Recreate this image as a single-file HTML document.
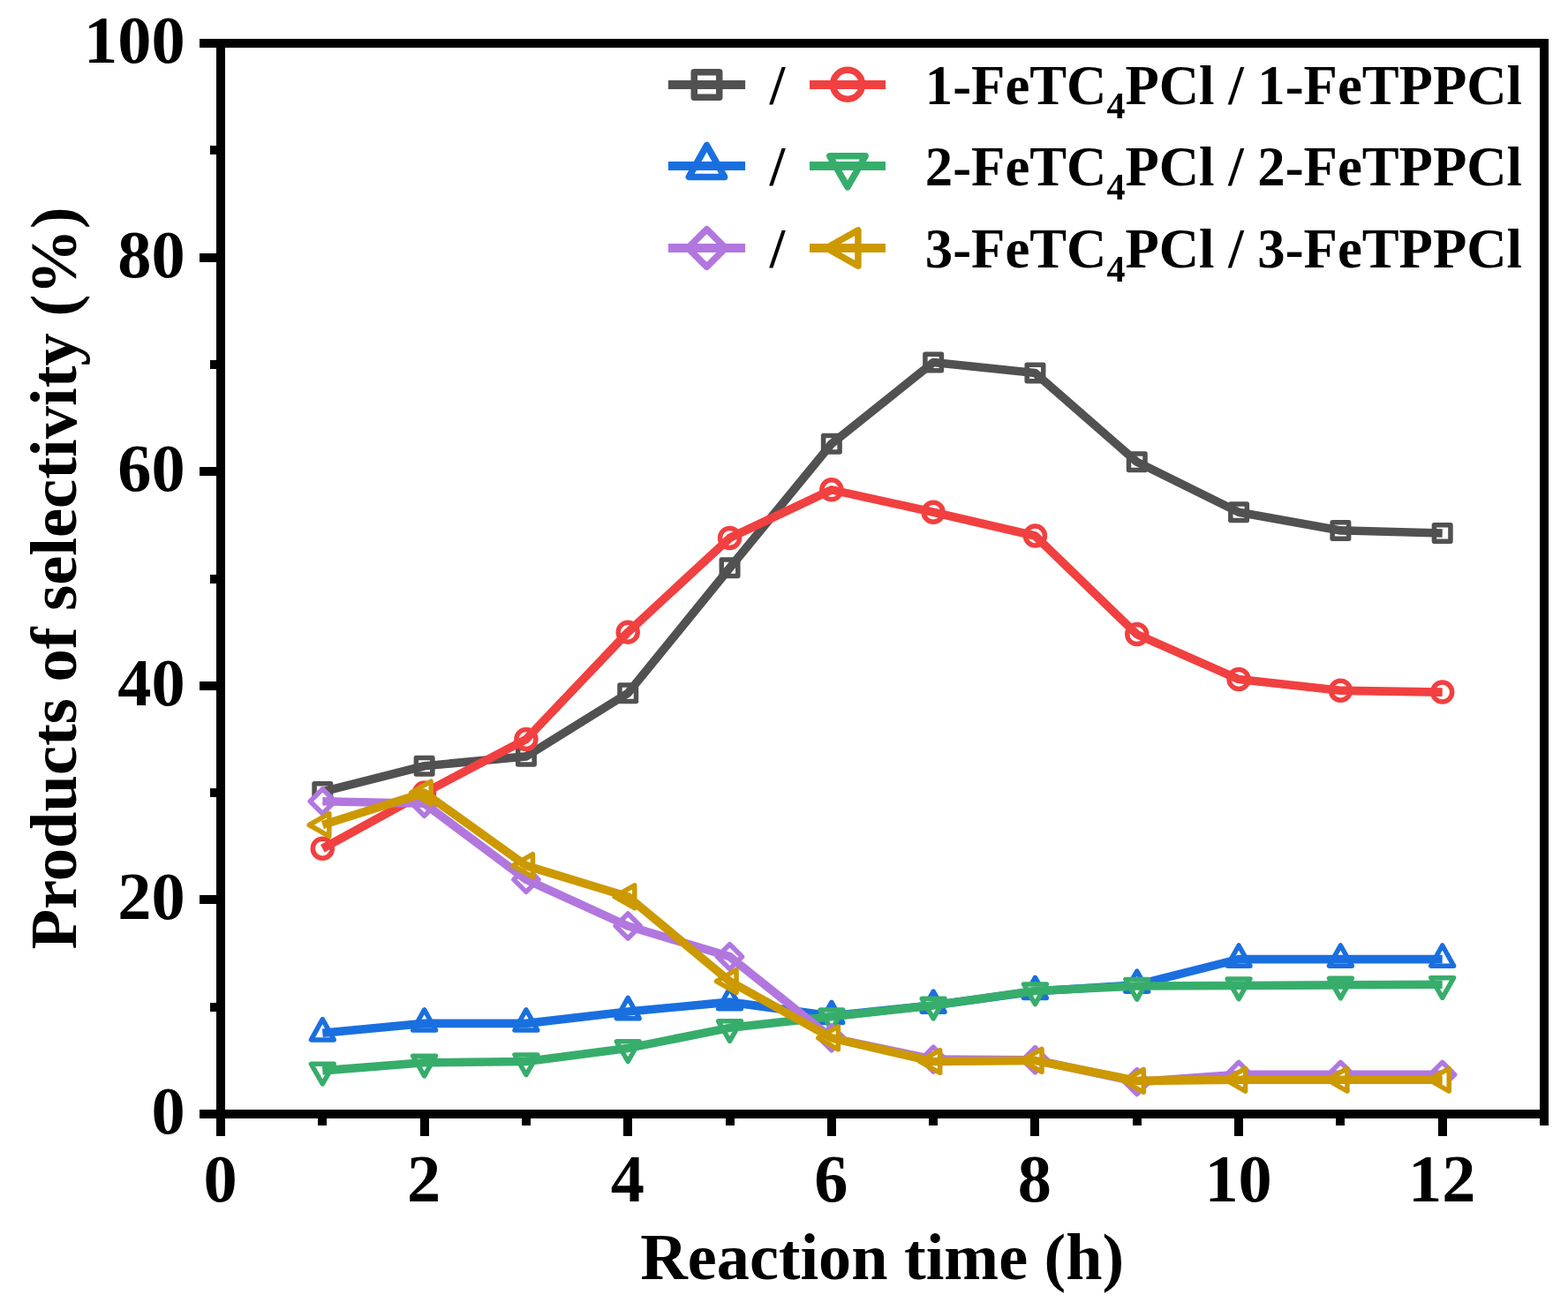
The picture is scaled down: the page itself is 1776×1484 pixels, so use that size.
<!DOCTYPE html>
<html lang="en"><head><meta charset="utf-8"><title>Products of selectivity vs reaction time</title>
<style>html,body{margin:0;padding:0;background:#fff}svg{display:block}text{font-family:"Liberation Serif","DejaVu Serif",serif;font-weight:bold;fill:#000}</style></head><body>
<svg width="1776" height="1484" viewBox="0 0 1776 1484">
<rect x="0" y="0" width="1776" height="1484" fill="#fff"/>
<g id="series">
<g>
<rect x="356.06" y="887.64" width="18.5" height="18.5" fill="#fff" stroke="#515151" stroke-width="5.5" stroke-linejoin="round"/>
<rect x="471.37" y="858.52" width="18.5" height="18.5" fill="#fff" stroke="#515151" stroke-width="5.5" stroke-linejoin="round"/>
<rect x="586.67" y="847.61" width="18.5" height="18.5" fill="#fff" stroke="#515151" stroke-width="5.5" stroke-linejoin="round"/>
<rect x="701.98" y="776.04" width="18.5" height="18.5" fill="#fff" stroke="#515151" stroke-width="5.5" stroke-linejoin="round"/>
<rect x="817.29" y="634.12" width="18.5" height="18.5" fill="#fff" stroke="#515151" stroke-width="5.5" stroke-linejoin="round"/>
<rect x="932.6" y="493.41" width="18.5" height="18.5" fill="#fff" stroke="#515151" stroke-width="5.5" stroke-linejoin="round"/>
<rect x="1047.9" y="401.22" width="18.5" height="18.5" fill="#fff" stroke="#515151" stroke-width="5.5" stroke-linejoin="round"/>
<rect x="1163.21" y="413.35" width="18.5" height="18.5" fill="#fff" stroke="#515151" stroke-width="5.5" stroke-linejoin="round"/>
<rect x="1278.52" y="514.03" width="18.5" height="18.5" fill="#fff" stroke="#515151" stroke-width="5.5" stroke-linejoin="round"/>
<rect x="1393.83" y="571.04" width="18.5" height="18.5" fill="#fff" stroke="#515151" stroke-width="5.5" stroke-linejoin="round"/>
<rect x="1509.13" y="591.66" width="18.5" height="18.5" fill="#fff" stroke="#515151" stroke-width="5.5" stroke-linejoin="round"/>
<rect x="1624.44" y="594.7" width="18.5" height="18.5" fill="#fff" stroke="#515151" stroke-width="5.5" stroke-linejoin="round"/>
<polyline points="365.31,896.89 480.62,867.77 595.92,856.86 711.23,785.29 826.54,643.37 941.85,502.66 1057.15,410.47 1172.46,422.6 1287.77,523.28 1403.08,580.29 1518.38,600.91 1633.69,603.95" fill="none" stroke="#515151" stroke-width="9.6" stroke-linejoin="round" stroke-linecap="butt"/>
</g>
<g>
<circle cx="365.31" cy="961.18" r="11" fill="#fff" stroke="#F14040" stroke-width="5.5" stroke-linejoin="round"/>
<circle cx="480.62" cy="898.1" r="11" fill="#fff" stroke="#F14040" stroke-width="5.5" stroke-linejoin="round"/>
<circle cx="595.92" cy="837.45" r="11" fill="#fff" stroke="#F14040" stroke-width="5.5" stroke-linejoin="round"/>
<circle cx="711.23" cy="716.15" r="11" fill="#fff" stroke="#F14040" stroke-width="5.5" stroke-linejoin="round"/>
<circle cx="826.54" cy="609.41" r="11" fill="#fff" stroke="#F14040" stroke-width="5.5" stroke-linejoin="round"/>
<circle cx="941.85" cy="554.82" r="11" fill="#fff" stroke="#F14040" stroke-width="5.5" stroke-linejoin="round"/>
<circle cx="1057.15" cy="580.29" r="11" fill="#fff" stroke="#F14040" stroke-width="5.5" stroke-linejoin="round"/>
<circle cx="1172.46" cy="606.98" r="11" fill="#fff" stroke="#F14040" stroke-width="5.5" stroke-linejoin="round"/>
<circle cx="1287.77" cy="718.58" r="11" fill="#fff" stroke="#F14040" stroke-width="5.5" stroke-linejoin="round"/>
<circle cx="1403.08" cy="769.52" r="11" fill="#fff" stroke="#F14040" stroke-width="5.5" stroke-linejoin="round"/>
<circle cx="1518.38" cy="782.26" r="11" fill="#fff" stroke="#F14040" stroke-width="5.5" stroke-linejoin="round"/>
<circle cx="1633.69" cy="784.08" r="11" fill="#fff" stroke="#F14040" stroke-width="5.5" stroke-linejoin="round"/>
<polyline points="365.31,961.18 480.62,898.1 595.92,837.45 711.23,716.15 826.54,609.41 941.85,554.82 1057.15,580.29 1172.46,606.98 1287.77,718.58 1403.08,769.52 1518.38,782.26 1633.69,784.08" fill="none" stroke="#F14040" stroke-width="9.6" stroke-linejoin="round" stroke-linecap="butt"/>
</g>
<g>
<polygon points="365.31,1154.7 352.41,1177.9 378.21,1177.9" fill="#fff" stroke="#1A6FDF" stroke-width="5.5" stroke-linejoin="round"/>
<polygon points="480.62,1143.78 467.72,1166.98 493.52,1166.98" fill="#fff" stroke="#1A6FDF" stroke-width="5.5" stroke-linejoin="round"/>
<polygon points="595.92,1143.78 583.02,1166.98 608.82,1166.98" fill="#fff" stroke="#1A6FDF" stroke-width="5.5" stroke-linejoin="round"/>
<polygon points="711.23,1130.44 698.33,1153.64 724.13,1153.64" fill="#fff" stroke="#1A6FDF" stroke-width="5.5" stroke-linejoin="round"/>
<polygon points="826.54,1119.52 813.64,1142.72 839.44,1142.72" fill="#fff" stroke="#1A6FDF" stroke-width="5.5" stroke-linejoin="round"/>
<polygon points="941.85,1135.29 928.95,1158.49 954.75,1158.49" fill="#fff" stroke="#1A6FDF" stroke-width="5.5" stroke-linejoin="round"/>
<polygon points="1057.15,1123.16 1044.25,1146.36 1070.05,1146.36" fill="#fff" stroke="#1A6FDF" stroke-width="5.5" stroke-linejoin="round"/>
<polygon points="1172.46,1107.39 1159.56,1130.59 1185.36,1130.59" fill="#fff" stroke="#1A6FDF" stroke-width="5.5" stroke-linejoin="round"/>
<polygon points="1287.77,1100.11 1274.87,1123.31 1300.67,1123.31" fill="#fff" stroke="#1A6FDF" stroke-width="5.5" stroke-linejoin="round"/>
<polygon points="1403.08,1071 1390.18,1094.2 1415.98,1094.2" fill="#fff" stroke="#1A6FDF" stroke-width="5.5" stroke-linejoin="round"/>
<polygon points="1518.38,1071 1505.48,1094.2 1531.28,1094.2" fill="#fff" stroke="#1A6FDF" stroke-width="5.5" stroke-linejoin="round"/>
<polygon points="1633.69,1071 1620.79,1094.2 1646.59,1094.2" fill="#fff" stroke="#1A6FDF" stroke-width="5.5" stroke-linejoin="round"/>
<polyline points="365.31,1170.3 480.62,1159.38 595.92,1159.38 711.23,1146.04 826.54,1135.12 941.85,1150.89 1057.15,1138.76 1172.46,1122.99 1287.77,1115.71 1403.08,1086.6 1518.38,1086.6 1633.69,1086.6" fill="none" stroke="#1A6FDF" stroke-width="9.6" stroke-linejoin="round" stroke-linecap="butt"/>
</g>
<g>
<polygon points="365.31,1227.97 352.41,1205.32 378.21,1205.32" fill="#fff" stroke="#37AD6B" stroke-width="5.5" stroke-linejoin="round"/>
<polygon points="480.62,1218.88 467.72,1196.23 493.52,1196.23" fill="#fff" stroke="#37AD6B" stroke-width="5.5" stroke-linejoin="round"/>
<polygon points="595.92,1217.66 583.02,1195.01 608.82,1195.01" fill="#fff" stroke="#37AD6B" stroke-width="5.5" stroke-linejoin="round"/>
<polygon points="711.23,1202.5 698.33,1179.85 724.13,1179.85" fill="#fff" stroke="#37AD6B" stroke-width="5.5" stroke-linejoin="round"/>
<polygon points="826.54,1179.45 813.64,1156.8 839.44,1156.8" fill="#fff" stroke="#37AD6B" stroke-width="5.5" stroke-linejoin="round"/>
<polygon points="941.85,1166.72 928.95,1144.07 954.75,1144.07" fill="#fff" stroke="#37AD6B" stroke-width="5.5" stroke-linejoin="round"/>
<polygon points="1057.15,1153.98 1044.25,1131.33 1070.05,1131.33" fill="#fff" stroke="#37AD6B" stroke-width="5.5" stroke-linejoin="round"/>
<polygon points="1172.46,1137.61 1159.56,1114.96 1185.36,1114.96" fill="#fff" stroke="#37AD6B" stroke-width="5.5" stroke-linejoin="round"/>
<polygon points="1287.77,1132.15 1274.87,1109.5 1300.67,1109.5" fill="#fff" stroke="#37AD6B" stroke-width="5.5" stroke-linejoin="round"/>
<polygon points="1403.08,1131.54 1390.18,1108.89 1415.98,1108.89" fill="#fff" stroke="#37AD6B" stroke-width="5.5" stroke-linejoin="round"/>
<polygon points="1518.38,1130.93 1505.48,1108.28 1531.28,1108.28" fill="#fff" stroke="#37AD6B" stroke-width="5.5" stroke-linejoin="round"/>
<polygon points="1633.69,1130.33 1620.79,1107.68 1646.59,1107.68" fill="#fff" stroke="#37AD6B" stroke-width="5.5" stroke-linejoin="round"/>
<polyline points="365.31,1212.87 480.62,1203.78 595.92,1202.56 711.23,1187.4 826.54,1164.35 941.85,1151.62 1057.15,1138.88 1172.46,1122.51 1287.77,1117.05 1403.08,1116.44 1518.38,1115.83 1633.69,1115.23" fill="none" stroke="#37AD6B" stroke-width="9.6" stroke-linejoin="round" stroke-linecap="butt"/>
</g>
<g>
<polygon points="365.31,893.8 379.31,907.8 365.31,921.8 351.31,907.8" fill="#fff" stroke="#B177DE" stroke-width="5.5" stroke-linejoin="round"/>
<polygon points="480.62,896.23 494.62,910.23 480.62,924.23 466.62,910.23" fill="#fff" stroke="#B177DE" stroke-width="5.5" stroke-linejoin="round"/>
<polygon points="595.92,982.35 609.92,996.35 595.92,1010.35 581.92,996.35" fill="#fff" stroke="#B177DE" stroke-width="5.5" stroke-linejoin="round"/>
<polygon points="711.23,1035 725.23,1049 711.23,1063 697.23,1049" fill="#fff" stroke="#B177DE" stroke-width="5.5" stroke-linejoin="round"/>
<polygon points="826.54,1069.69 840.54,1083.69 826.54,1097.69 812.54,1083.69" fill="#fff" stroke="#B177DE" stroke-width="5.5" stroke-linejoin="round"/>
<polygon points="941.85,1161.88 955.85,1175.88 941.85,1189.88 927.85,1175.88" fill="#fff" stroke="#B177DE" stroke-width="5.5" stroke-linejoin="round"/>
<polygon points="1057.15,1186.14 1071.15,1200.14 1057.15,1214.14 1043.15,1200.14" fill="#fff" stroke="#B177DE" stroke-width="5.5" stroke-linejoin="round"/>
<polygon points="1172.46,1186.74 1186.46,1200.74 1172.46,1214.74 1158.46,1200.74" fill="#fff" stroke="#B177DE" stroke-width="5.5" stroke-linejoin="round"/>
<polygon points="1287.77,1211.61 1301.77,1225.61 1287.77,1239.61 1273.77,1225.61" fill="#fff" stroke="#B177DE" stroke-width="5.5" stroke-linejoin="round"/>
<polygon points="1403.08,1203.36 1417.08,1217.36 1403.08,1231.36 1389.08,1217.36" fill="#fff" stroke="#B177DE" stroke-width="5.5" stroke-linejoin="round"/>
<polygon points="1518.38,1203.36 1532.38,1217.36 1518.38,1231.36 1504.38,1217.36" fill="#fff" stroke="#B177DE" stroke-width="5.5" stroke-linejoin="round"/>
<polygon points="1633.69,1203.36 1647.69,1217.36 1633.69,1231.36 1619.69,1217.36" fill="#fff" stroke="#B177DE" stroke-width="5.5" stroke-linejoin="round"/>
<polyline points="365.31,907.8 480.62,910.23 595.92,996.35 711.23,1049 826.54,1083.69 941.85,1175.88 1057.15,1200.14 1172.46,1200.74 1287.77,1225.61 1403.08,1217.36 1518.38,1217.36 1633.69,1217.36" fill="none" stroke="#B177DE" stroke-width="9.6" stroke-linejoin="round" stroke-linecap="butt"/>
</g>
<g>
<polygon points="350.21,934.49 372.86,921.59 372.86,947.39" fill="#fff" stroke="#CC9900" stroke-width="5.5" stroke-linejoin="round"/>
<polygon points="465.52,898.1 488.17,885.2 488.17,911" fill="#fff" stroke="#CC9900" stroke-width="5.5" stroke-linejoin="round"/>
<polygon points="580.82,980.58 603.47,967.68 603.47,993.48" fill="#fff" stroke="#CC9900" stroke-width="5.5" stroke-linejoin="round"/>
<polygon points="696.13,1015.76 718.78,1002.86 718.78,1028.66" fill="#fff" stroke="#CC9900" stroke-width="5.5" stroke-linejoin="round"/>
<polygon points="811.44,1111.59 834.09,1098.69 834.09,1124.49" fill="#fff" stroke="#CC9900" stroke-width="5.5" stroke-linejoin="round"/>
<polygon points="926.75,1175.88 949.4,1162.98 949.4,1188.78" fill="#fff" stroke="#CC9900" stroke-width="5.5" stroke-linejoin="round"/>
<polygon points="1042.05,1202.56 1064.7,1189.66 1064.7,1215.46" fill="#fff" stroke="#CC9900" stroke-width="5.5" stroke-linejoin="round"/>
<polygon points="1157.36,1201.35 1180.01,1188.45 1180.01,1214.25" fill="#fff" stroke="#CC9900" stroke-width="5.5" stroke-linejoin="round"/>
<polygon points="1272.67,1224.4 1295.32,1211.5 1295.32,1237.3" fill="#fff" stroke="#CC9900" stroke-width="5.5" stroke-linejoin="round"/>
<polygon points="1387.98,1223.18 1410.63,1210.28 1410.63,1236.08" fill="#fff" stroke="#CC9900" stroke-width="5.5" stroke-linejoin="round"/>
<polygon points="1503.28,1223.18 1525.93,1210.28 1525.93,1236.08" fill="#fff" stroke="#CC9900" stroke-width="5.5" stroke-linejoin="round"/>
<polygon points="1618.59,1223.18 1641.24,1210.28 1641.24,1236.08" fill="#fff" stroke="#CC9900" stroke-width="5.5" stroke-linejoin="round"/>
<polyline points="365.31,934.49 480.62,898.1 595.92,980.58 711.23,1015.76 826.54,1111.59 941.85,1175.88 1057.15,1202.56 1172.46,1201.35 1287.77,1224.4 1403.08,1223.18 1518.38,1223.18 1633.69,1223.18" fill="none" stroke="#CC9900" stroke-width="9.6" stroke-linejoin="round" stroke-linecap="butt"/>
</g>
</g>
<g id="axes" fill="#000" shape-rendering="crispEdges">
<rect x="245" y="44" width="1509" height="10"/>
<rect x="245" y="1257" width="1509" height="10"/>
<rect x="245" y="44" width="10" height="1223"/>
<rect x="1744" y="44" width="10" height="1223"/>
<rect x="225.5" y="1257" width="20.5" height="10"/>
<rect x="237.5" y="1136" width="8.5" height="10"/>
<rect x="225.5" y="1014" width="20.5" height="10"/>
<rect x="237.5" y="893" width="8.5" height="10"/>
<rect x="225.5" y="772" width="20.5" height="10"/>
<rect x="237.5" y="651" width="8.5" height="10"/>
<rect x="225.5" y="529" width="20.5" height="10"/>
<rect x="237.5" y="408" width="8.5" height="10"/>
<rect x="225.5" y="287" width="20.5" height="10"/>
<rect x="237.5" y="165" width="8.5" height="10"/>
<rect x="225.5" y="44" width="20.5" height="10"/>
<rect x="245" y="1266" width="10" height="20.5"/>
<rect x="360" y="1266" width="10" height="8.5"/>
<rect x="476" y="1266" width="10" height="20.5"/>
<rect x="591" y="1266" width="10" height="8.5"/>
<rect x="706" y="1266" width="10" height="20.5"/>
<rect x="822" y="1266" width="10" height="8.5"/>
<rect x="937" y="1266" width="10" height="20.5"/>
<rect x="1052" y="1266" width="10" height="8.5"/>
<rect x="1167" y="1266" width="10" height="20.5"/>
<rect x="1283" y="1266" width="10" height="8.5"/>
<rect x="1398" y="1266" width="10" height="20.5"/>
<rect x="1513" y="1266" width="10" height="8.5"/>
<rect x="1629" y="1266" width="10" height="20.5"/>
<rect x="1744" y="1266" width="10" height="8.5"/>
</g>
<g id="ticklabels" font-size="76.4">
<text x="209.7" y="1284" text-anchor="end">0</text>
<text x="209.7" y="1041.4" text-anchor="end">20</text>
<text x="209.7" y="798.8" text-anchor="end">40</text>
<text x="209.7" y="556.2" text-anchor="end">60</text>
<text x="209.7" y="313.6" text-anchor="end">80</text>
<text x="209.7" y="71" text-anchor="end">100</text>
<text x="249.5" y="1360.7" text-anchor="middle">0</text>
<text x="480.12" y="1360.7" text-anchor="middle">2</text>
<text x="710.73" y="1360.7" text-anchor="middle">4</text>
<text x="941.35" y="1360.7" text-anchor="middle">6</text>
<text x="1171.96" y="1360.7" text-anchor="middle">8</text>
<text x="1402.58" y="1360.7" text-anchor="middle">10</text>
<text x="1633.19" y="1360.7" text-anchor="middle">12</text>
</g>
<text x="999.3" y="1449.3" font-size="74.2" text-anchor="middle">Reaction time (h)</text>
<text transform="translate(86 655) rotate(-90)" font-size="74.55" text-anchor="middle">Products of selectivity (%)</text>
<g id="legend" font-size="62.75">
<rect x="786.25" y="81.75" width="28.5" height="28.5" fill="#fff" stroke="#515151" stroke-width="7.5" stroke-linejoin="round"/>
<line x1="756.9" y1="96" x2="844.1" y2="96" stroke="#515151" stroke-width="10"/>
<circle cx="960" cy="95.7" r="16.5" fill="#fff" stroke="#F14040" stroke-width="7.5" stroke-linejoin="round"/>
<line x1="917" y1="96" x2="1003" y2="96" stroke="#F14040" stroke-width="10"/>
<text x="880.5" y="118" text-anchor="middle">/</text>
<text x="1047.8" y="118">1-FeTC<tspan font-size="42" dy="16">4</tspan><tspan dy="-16">PCl / 1-FeTPPCl</tspan></text>
<polygon points="800.5,164.55 780.35,200.45 820.65,200.45" fill="#fff" stroke="#1A6FDF" stroke-width="7.5" stroke-linejoin="round"/>
<line x1="756.9" y1="188" x2="844.1" y2="188" stroke="#1A6FDF" stroke-width="10"/>
<polygon points="960,211.9 939.85,176.8 980.15,176.8" fill="#fff" stroke="#37AD6B" stroke-width="7.5" stroke-linejoin="round"/>
<line x1="917" y1="188" x2="1003" y2="188" stroke="#37AD6B" stroke-width="10"/>
<text x="880.5" y="210" text-anchor="middle">/</text>
<text x="1047.8" y="210">2-FeTC<tspan font-size="42" dy="16">4</tspan><tspan dy="-16">PCl / 2-FeTPPCl</tspan></text>
<polygon points="800.5,259.75 821.75,281 800.5,302.25 779.25,281" fill="#fff" stroke="#B177DE" stroke-width="7.5" stroke-linejoin="round"/>
<line x1="756.9" y1="281" x2="844.1" y2="281" stroke="#B177DE" stroke-width="10"/>
<polygon points="936.13,281 971.93,260.85 971.93,301.15" fill="#fff" stroke="#CC9900" stroke-width="7.5" stroke-linejoin="round"/>
<line x1="917" y1="281" x2="1003" y2="281" stroke="#CC9900" stroke-width="10"/>
<text x="880.5" y="303" text-anchor="middle">/</text>
<text x="1047.8" y="303">3-FeTC<tspan font-size="42" dy="16">4</tspan><tspan dy="-16">PCl / 3-FeTPPCl</tspan></text>
</g>
</svg></body></html>
